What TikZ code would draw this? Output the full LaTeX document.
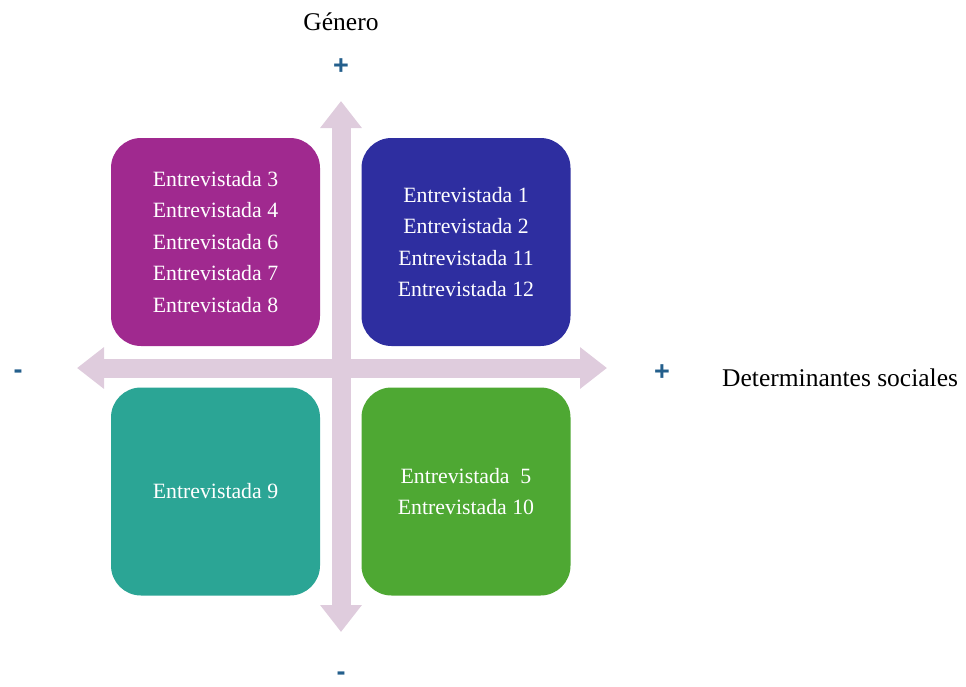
\documentclass[tikz,border=0pt]{standalone}
\usepackage{fontspec}
\setmainfont{Liberation Serif}
\newfontfamily\signfont{Liberation Sans}
\usetikzlibrary{arrows.meta}
\definecolor{axiscol}{HTML}{DFCCDD}
\definecolor{purplebox}{HTML}{A0298F}
\definecolor{bluebox}{HTML}{2E2EA0}
\definecolor{tealbox}{HTML}{2BA595}
\definecolor{greenbox}{HTML}{4EA833}
\definecolor{signcol}{HTML}{245F8C}
\begin{document}
\begin{tikzpicture}[x=1pt,y=-1pt,
  quad/.style={rounded corners=30pt, minimum width=209pt, minimum height=208pt,
    inner sep=0pt, text=white, align=center,
    font=\fontsize{21.8}{31.5}\selectfont},
  axis/.style={draw=axiscol, line width=19pt,
    {Triangle[width=40pt,length=27pt]}-{Triangle[width=40pt,length=27pt]}},
  sign/.style={text=signcol, font=\signfont\bfseries\fontsize{27}{27}\selectfont, inner sep=0pt},
  lab/.style={font=\fontsize{25.5}{30}\selectfont, inner sep=0pt}]
\useasboundingbox (0,0) rectangle (966,686);
\coordinate (vt) at (341,101);
\coordinate (vb) at (341,632);
\coordinate (hl) at (77,368);
\coordinate (hr) at (607,368);
\draw[axis] (vb) -- (vt);
\draw[axis] (hl) -- (hr);
\node[quad, fill=purplebox] (q2) at (215.5,242) {Entrevistada 3\\Entrevistada 4\\Entrevistada 6\\Entrevistada 7\\Entrevistada 8};
\node[quad, fill=bluebox] (q1) at (466,242) {Entrevistada 1\\Entrevistada 2\\Entrevistada 11\\Entrevistada 12};
\node[quad, fill=tealbox] (q3) at (215.5,491.5) {Entrevistada 9};
\node[quad, fill=greenbox] (q4) at (466,491.5) {Entrevistada\ \ 5\\Entrevistada 10};
\node[lab] (gen) at (341,22) {Género};
\node[sign] (ptop) at (341,67) {+};
\node[sign] (mbot) at (341,676) {-};
\node[sign] (mleft) at (18,374) {-};
\node[sign] (pright) at (662,373) {+};
\node[lab, anchor=west] (det) at (722,378) {Determinantes sociales};
\end{tikzpicture}
\end{document}
